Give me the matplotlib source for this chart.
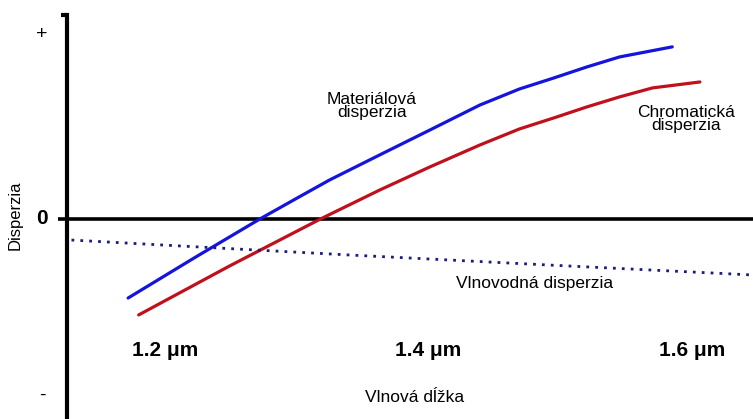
import matplotlib.pyplot as plt

# vlnova dlzka [um] a disperzia (bez jednotiek, + / 0 / -)
mat_x = [1.172, 1.222, 1.272, 1.299, 1.325, 1.363, 1.401, 1.439, 1.469,
         1.495, 1.520, 1.545, 1.585]
mat_y = [-0.439, -0.217, 0.0, 0.111, 0.217, 0.356, 0.494, 0.633, 0.722,
         0.783, 0.844, 0.900, 0.956]

chrom_x = [1.180, 1.249, 1.318, 1.363, 1.401, 1.439, 1.469, 1.495, 1.520,
           1.545, 1.570, 1.606]
chrom_y = [-0.533, -0.261, 0.0, 0.161, 0.289, 0.411, 0.500, 0.561, 0.622,
           0.678, 0.728, 0.761]

vlnovod_x = [1.129, 1.227, 1.340, 1.492, 1.646]
vlnovod_y = [-0.117, -0.156, -0.200, -0.256, -0.311]

tick_pos = [1.2, 1.4, 1.6]
tick_txt = ["1.2 μm", "1.4 μm", "1.6 μm"]

plt.rcParams['font.family'] = ['Liberation Sans', 'DejaVu Sans']

fig = plt.figure(figsize=(7.53, 4.19), dpi=100)
ax = fig.add_axes([67/753, 0, 686/753, 404/419])
ax.set_xlim(1.1256, 1.6463)
ax.set_ylim(-1.111, 1.133)

for s in ['top', 'right', 'bottom']:
    ax.spines[s].set_visible(False)
ax.spines['left'].set_linewidth(3)
ax.set_xticks([])
ax.set_yticks([])

# nulova os + maly hacik hore
ax.plot([-9/686, 1], [1.111 / 2.244] * 2, color='black', lw=2.6,
        transform=ax.transAxes, clip_on=False, solid_capstyle='butt')
ax.plot([-6/686, 0], [1, 1], color='black', lw=3, transform=ax.transAxes,
        clip_on=False, solid_capstyle='butt')

ax.plot(mat_x, mat_y, color='#1414dc', lw=2.3, solid_capstyle='round')
ax.plot(chrom_x, chrom_y, color='#c0101c', lw=2.3, solid_capstyle='round')
ax.plot(vlnovod_x, vlnovod_y, color='#1c1c80', lw=2, linestyle=(0, (1, 2.2)))

for p, t in zip(tick_pos, tick_txt):
    ax.text(p, -0.728, t, ha='center', va='center', fontsize=15,
            fontweight='bold')

ytr = ax.get_yaxis_transform()
ax.text(-25/686, 1.022, '+', transform=ytr, ha='center', va='center',
        fontsize=14)
ax.text(-25/686, 0.0, '0', transform=ytr, ha='center', va='center',
        fontsize=15, fontweight='bold')
ax.text(-25/686, -0.978, '-', transform=ytr, ha='center', va='center',
        fontsize=14)

ax.text(-52/686, 0.02, 'Disperzia', transform=ytr, rotation=90,
        ha='center', va='center', fontsize=12)

ax.text(1.1256 + (415 - 67) / 1317.5, -0.994, 'Vlnová dĺžka', ha='center',
        va='center', fontsize=12.5)
ax.text(1.2 + (372 - 165) / 1317.5, (219 - 106) / 180, 'Materiálová\ndisperzia',
        ha='center', va='center', fontsize=12.5, linespacing=0.9)
ax.text(1.2 + (686 - 165) / 1317.5, (219 - 119) / 180, 'Chromatická\ndisperzia',
        ha='center', va='center', fontsize=12.5, linespacing=0.9)
ax.text(1.2 + (535 - 165) / 1317.5, (219 - 284) / 180, 'Vlnovodná disperzia',
        ha='center', va='center', fontsize=12.5)

fig.savefig('out.png', dpi=100)
